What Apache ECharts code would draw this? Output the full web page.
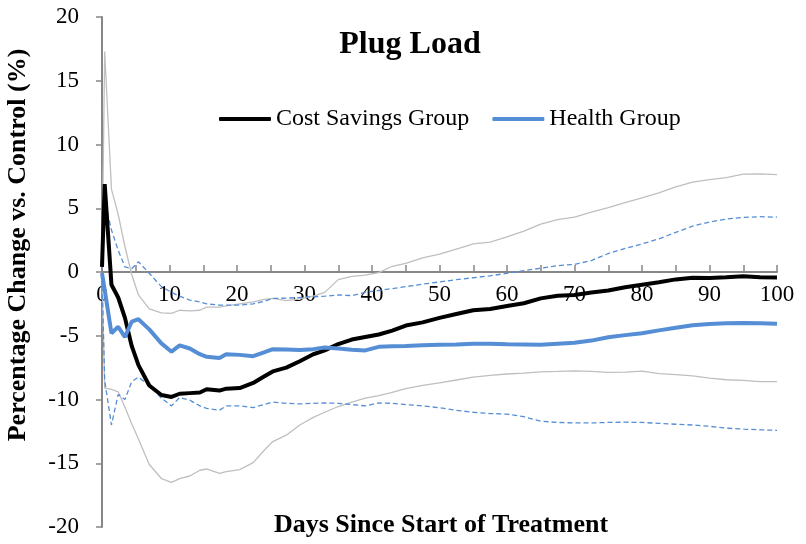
<!DOCTYPE html>
<html>
<head>
<meta charset="utf-8">
<script src="https://cdn.jsdelivr.net/npm/echarts@6/dist/echarts.min.js"></script>
<style>
  html, body { margin: 0; padding: 0; background: #fff; }
  #chart { width: 806px; height: 544px; }
</style>
</head>
<body>
<div id="chart"></div>
<script>
// days since start of treatment (sample points)
const days = [0, 0.4, 1.4, 2.4, 3.4, 4.4, 5.4, 7, 8.8, 10.3, 11.5, 13, 14.5, 15.5, 17.4, 18.4, 20.4, 22.4, 24, 25.3,
  27.3, 29.3, 31.3, 33, 35, 37, 39, 41, 43, 45, 47.5, 50, 52.5, 55, 57.5, 60, 62.5, 65, 67.5, 70,
  72.5, 75, 77.5, 80, 82.5, 85, 87.5, 90, 92.5, 95, 97.5, 100]

const costSavings = [0.4, 6.9, -1.0, -2.0, -3.6, -5.8, -7.3, -8.9, -9.65, -9.8, -9.55, -9.5, -9.45, -9.2, -9.3, -9.15, -9.1, -8.7, -8.2, -7.8,
  -7.5, -7.0, -6.45, -6.15, -5.65, -5.3, -5.1, -4.9, -4.6, -4.2, -3.95, -3.6, -3.3, -3.0, -2.9, -2.67, -2.45, -2.07, -1.86, -1.8,
  -1.6, -1.45, -1.2, -1.0, -0.8, -0.58, -0.46, -0.48, -0.42, -0.33, -0.42, -0.44]
const costUpper = [0.6, 17.3, 6.5, 4.5, 2.0, -0.2, -1.8, -2.9, -3.2, -3.25, -3.0, -3.05, -3.0, -2.75, -2.75, -2.65, -2.5, -2.35, -2.15, -2.07,
  -2.25, -2.1, -1.9, -1.6, -0.6, -0.35, -0.25, -0.05, 0.45, 0.68, 1.1, 1.4, 1.8, 2.2, 2.35, 2.75, 3.2, 3.75, 4.1, 4.3,
  4.7, 5.05, 5.45, 5.82, 6.2, 6.68, 7.05, 7.25, 7.4, 7.67, 7.7, 7.64]
const costLower = [-0.3, -9.1, -9.2, -9.4, -10.6, -11.9, -13.1, -15.1, -16.2, -16.5, -16.2, -16.0, -15.55, -15.45, -15.8, -15.65, -15.5, -14.95, -14.0, -13.3,
  -12.8, -12.0, -11.4, -11.0, -10.55, -10.2, -9.9, -9.7, -9.45, -9.15, -8.9, -8.7, -8.47, -8.25, -8.1, -8.0, -7.93, -7.83, -7.8, -7.75,
  -7.8, -7.88, -7.86, -7.78, -7.97, -8.05, -8.15, -8.32, -8.45, -8.5, -8.6, -8.6]

const health = [-0.1, -1.4, -4.8, -4.3, -5.1, -3.9, -3.7, -4.5, -5.6, -6.25, -5.75, -6.0, -6.45, -6.65, -6.75, -6.45, -6.5, -6.6, -6.3, -6.05,
  -6.07, -6.12, -6.05, -5.92, -6.0, -6.1, -6.15, -5.87, -5.83, -5.8, -5.75, -5.7, -5.68, -5.62, -5.62, -5.66, -5.68, -5.7, -5.62, -5.55,
  -5.38, -5.12, -4.95, -4.8, -4.58, -4.38, -4.18, -4.07, -4.02, -4.0, -4.02, -4.06]
const healthUpper = [0.3, 5.6, 3.3, 1.7, 0.4, 0.25, 0.8, -0.1, -1.15, -1.6, -1.9, -2.2, -2.35, -2.5, -2.6, -2.6, -2.6, -2.5, -2.3, -2.07,
  -2.05, -2.0, -1.94, -1.9, -1.8, -1.85, -1.6, -1.45, -1.3, -1.15, -0.95, -0.78, -0.6, -0.45, -0.3, -0.1, 0.1, 0.3, 0.5, 0.6,
  0.9, 1.45, 1.85, 2.2, 2.6, 3.1, 3.6, 3.92, 4.15, 4.28, 4.34, 4.3]
const healthLower = [-0.5, -8.5, -12.0, -9.6, -10.0, -8.6, -8.25, -8.9, -9.9, -10.5, -9.85, -10.05, -10.5, -10.7, -10.84, -10.5, -10.5, -10.63, -10.4, -10.2,
  -10.3, -10.35, -10.3, -10.27, -10.3, -10.4, -10.5, -10.27, -10.3, -10.4, -10.5, -10.65, -10.85, -11.0, -11.1, -11.15, -11.35, -11.7, -11.8, -11.84,
  -11.84, -11.8, -11.78, -11.8, -11.87, -11.94, -12.0, -12.1, -12.25, -12.32, -12.38, -12.42]

const serif = '"Liberation Serif", "Times New Roman", serif'
const axisGrey = '#878787'
const blue = '#558ed5'

function pairs (vals) {
  return days.map((d, i) => [d, vals[i]])
}

function ciLine (vals, color, dashed) {
  return {
    type: 'line',
    symbol: 'none',
    silent: true,
    lineStyle: { color: color, width: 1.3, type: dashed ? [5, 3] : 'solid' },
    data: pairs(vals)
  }
}

const myChart = echarts.init(document.getElementById('chart'))
myChart.setOption({
  animation: false,
  title: {
    text: 'Plug Load',
    left: 405,
    top: 24,
    textAlign: 'center',
    textStyle: { fontFamily: serif, fontSize: 32, fontWeight: 'bold', color: '#000' }
  },
  legend: {
    data: ['Cost Savings Group', 'Health Group'],
    left: 214,
    top: 102,
    icon: 'roundRect',
    itemWidth: 52,
    itemHeight: 4,
    itemGap: 23,
    textStyle: { fontFamily: serif, fontSize: 24, color: '#000' }
  },
  grid: {
    left: 102,
    right: 29,
    top: 17,
    bottom: 17
  },
  xAxis: {
    type: 'value',
    min: 0,
    max: 100,
    interval: 5,
    // the axis crosses at y = 0, in the middle of the plot
    offset: -255,
    splitLine: { show: false },
    axisLine: { onZero: false, lineStyle: { color: axisGrey, width: 2 } },
    axisTick: { inside: true, length: 7, lineStyle: { color: axisGrey, width: 1.5 } },
    axisLabel: {
      margin: 11,
      color: '#000',
      fontFamily: serif,
      fontSize: 23,
      showMaxLabel: true,
      formatter: function (v) { return v % 10 === 0 ? String(v) : '' }
    }
  },
  yAxis: {
    type: 'value',
    min: -20,
    max: 20,
    interval: 5,
    splitLine: { show: false },
    axisLine: { show: true, onZero: false, lineStyle: { color: axisGrey, width: 2 } },
    axisTick: { show: true, length: 6, lineStyle: { color: axisGrey, width: 1.5 } },
    axisLabel: { margin: 23, color: '#000', fontFamily: serif, fontSize: 23 }
  },
  graphic: [
    {
      type: 'text',
      x: 18,
      y: 245,
      rotation: Math.PI / 2,
      style: {
        text: 'Percentage Change vs. Control (%)',
        font: 'bold 26px ' + serif,
        fill: '#000',
        textAlign: 'center',
        textVerticalAlign: 'middle'
      }
    },
    {
      type: 'text',
      x: 441,
      y: 525,
      style: {
        text: 'Days Since Start of Treatment',
        font: 'bold 26px ' + serif,
        fill: '#000',
        textAlign: 'center',
        textVerticalAlign: 'middle'
      }
    }
  ],
  series: [
    ciLine(costUpper, '#bfbfbf', false),
    ciLine(costLower, '#bfbfbf', false),
    ciLine(healthUpper, blue, true),
    ciLine(healthLower, blue, true),
    {
      name: 'Cost Savings Group',
      type: 'line',
      symbol: 'none',
      itemStyle: { color: '#000' },
      lineStyle: { color: '#000', width: 4 },
      data: pairs(costSavings)
    },
    {
      name: 'Health Group',
      type: 'line',
      symbol: 'none',
      itemStyle: { color: blue },
      lineStyle: { color: blue, width: 4 },
      data: pairs(health)
    }
  ]
})
</script>
</body>
</html>
